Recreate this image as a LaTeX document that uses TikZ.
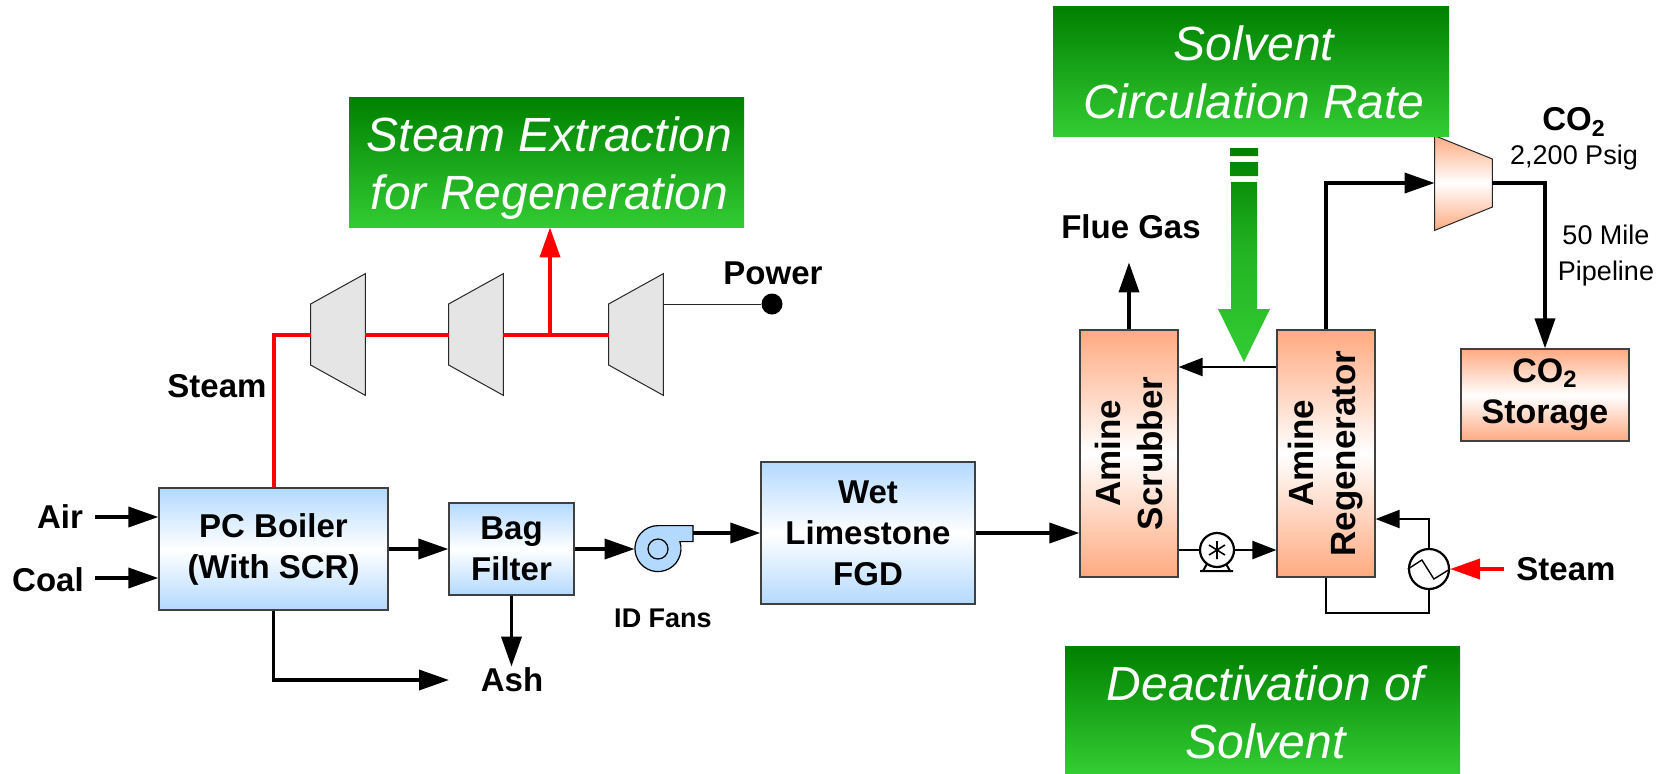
\documentclass[tikz,border=0pt]{standalone}
\usepackage{fontspec}
\setmainfont{Liberation Sans}
\usetikzlibrary{arrows.meta}
\definecolor{sky}{HTML}{B3D9FF}
\definecolor{peach}{HTML}{FFAA80}
\definecolor{darkleaf}{HTML}{008000}
\definecolor{leaf}{HTML}{33CC33}
\definecolor{fanblue}{HTML}{B3D9FF}
\begin{document}
\begin{tikzpicture}[
    x=0.5pt, y=-0.5pt,
    unit/.style={rectangle, draw=black!75, line width=0.6pt, text centered, inner sep=0pt, align=center, font=\fontsize{16.5}{20.5}\selectfont\bfseries},
    bluebox/.style={unit, top color=sky, bottom color=sky, middle color=white},
    orangebox/.style={unit, top color=peach, bottom color=peach, middle color=white},
    upright/.style={orangebox, rotate=90, minimum width=123.5pt, minimum height=49pt, font=\fontsize{17.5}{21}\selectfont\bfseries},
    callout/.style={rectangle, inner sep=0pt, top color=darkleaf, bottom color=leaf},
    captext/.style={inner sep=0pt, align=center, text=white, xshift=1.5pt, font=\fontsize{24}{29}\selectfont\itshape},
    tag/.style={inner sep=0pt, align=center, font=\fontsize{16.5}{20.5}\selectfont\bfseries},
    small/.style={inner sep=0pt, align=center, font=\fontsize{13.5}{18}\selectfont},
    turbine/.style={rectangle, inner sep=0pt, minimum width=27pt, minimum height=60.5pt},
    casing/.style={draw=black!85, line width=0.5pt},
    arrow/.style={line width=1.8pt, -{Triangle[length=15pt,width=10pt]}},
    thinarrow/.style={line width=1.1pt, -{Triangle[length=12pt,width=9pt]}},
    redline/.style={line width=2pt, red},
    redarrow/.style={redline, -{Triangle[length=15pt,width=10pt]}}
]
    % main gas train
    \node[bluebox, minimum width=114.5pt, minimum height=61pt] (boiler) at (273.5,549) {PC Boiler\\(With SCR)};
    \node[bluebox, right of=boiler, node distance=119pt, minimum width=62.5pt, minimum height=46pt] (bag) {Bag\\Filter};
    \node[circle, fill=fanblue, minimum size=23pt, inner sep=0pt, right of=bag, node distance=73.25pt] (fan) {};
    \draw[fill=fanblue, line width=0.6pt] (fan.north) -- ++(35,0) -- ++(0,16) -- ++(-13.1,0) arc[start angle=17.7, end angle=-270, radius=11.5pt] -- cycle;
    \draw[line width=0.6pt] (fan) circle[radius=5pt];
    \coordinate (fanout) at (693,533);
    \node[bluebox, minimum width=107pt, minimum height=71pt] (fgd) at (868,533) {Wet\\Limestone\\FGD};
    \node[upright] (scrubber) at (1129,453.5) {Amine\\Scrubber};
    \node[upright] (regen) at (1326,453.5) {Amine\\Regenerator};
    \node[orangebox, minimum width=84pt, minimum height=46pt, font=\fontsize{17}{20.5}\selectfont\bfseries] (storage) at (1545,395) {CO\textsubscript{2}\\Storage};

    % turbines
    \node[turbine] (turbA) at (338,334.5) {};
    \node[turbine, right of=turbA, node distance=69pt] (turbB) {};
    \node[turbine, right of=turbB, node distance=80pt] (turbC) {};
    \foreach \name in {turbA,turbB,turbC}
        \draw[casing, fill=black!10] ([yshift=15.25pt]\name.west) -- (\name.north east) -- (\name.south east) -- ([yshift=-15.25pt]\name.west) -- cycle;
    \node[circle, fill=black, minimum size=10.5pt, inner sep=0pt] (dot) at (772,304) {};
    \coordinate (tap) at (550,334.5);

    % compressor, pump and reboiler
    \node[turbine, minimum width=28.5pt, minimum height=47pt] (comp) at (1463.5,183) {};
    \draw[casing, top color=peach, bottom color=peach, middle color=white] (comp.north west) -- ([yshift=12pt]comp.east) -- ([yshift=-12pt]comp.east) -- (comp.south west) -- cycle;
    \draw[line width=1pt] (1200,571) -- (1233,571) (1203,571) -- (1208,562) (1230,571) -- (1225,562);
    \node[circle, draw=black, line width=1.1pt, fill=white, minimum size=17pt, inner sep=0pt] (pump) at (1217,550) {};
    \draw[line width=0.8pt] (pump.center) ++(0,-9) -- ++(0,18) (pump.center) ++(-8,-5) -- ++(16,10) (pump.center) ++(-8,5) -- ++(16,-10);
    \node[circle, draw=black, line width=1.1pt, fill=white, minimum size=20pt, inner sep=0pt] (hex) at (1429,569) {};
    \draw[line width=0.7pt] (hex.west) -- ++(14,-9) -- ++(12,19) -- (hex.east);

    % callouts
    \node[callout, minimum width=197.5pt, minimum height=65pt, label={[captext, yshift=-3pt]center:Steam Extraction\\for Regeneration}] (steam) at (546.5,162) {};
    \node[callout, minimum width=198pt, minimum height=65pt, label={[captext, yshift=-0.5pt]center:Solvent\\Circulation Rate}] (rate) at (1251,71) {};
    \node[callout, minimum width=197.5pt, minimum height=63.5pt, label={[captext, yshift=-1.5pt]center:Deactivation of\\Solvent}] (deact) at (1262.5,709.5) {};
    \shade[top color=darkleaf, bottom color=leaf, middle color=leaf!70!darkleaf] (1230,148) rectangle (1258,156) (1230,162) rectangle (1258,176)
        (1231,182) -- (1257,182) -- (1257,309) -- (1270,309) -- (1244,362) -- (1218,309) -- (1231,309) -- cycle;

    % labels
    \node[tag] (air) at (60,517) {Air};
    \node[tag] (coal) at (48,580) {Coal};
    \node[tag] (steamlbl) at (217,386) {Steam};
    \node[tag] (ash) at (512,680) {Ash};
    \node[tag] (power) at (773,273) {Power};
    \node[tag] (flue) at (1131,227) {Flue Gas};
    \node[tag] (steamin) at (1566,569) {Steam};
    \node[tag, font=\fontsize{13.5}{16.5}\selectfont\bfseries] (fans) at (663,618) {ID Fans};
    \node[tag] (co) at (1574,122) {CO\textsubscript{2}};
    \node[small] (psig) at (1574,158) {2,200 Psig};
    \node[small] (pipe) at (1606,256) {50 Mile\\Pipeline};
    \coordinate (airin) at (95,517);
    \coordinate (coalin) at (95,578);
    \coordinate (steamout) at (1504,569);
    \coordinate (wasteend) at (449,680);

    % connectors
    \draw[arrow] (airin) -- (airin -| boiler.west);
    \draw[arrow] (coalin) -- (coalin -| boiler.west);
    \draw[arrow] (boiler) -- (bag);
    \draw[arrow] (bag.east) -- (fan.west);
    \draw[arrow] (fanout) -- (fgd.west);
    \draw[arrow] (fgd.east) -- (fgd.east -| scrubber.north);
    \draw[arrow] (bag.south) -- ++(0,71);
    \draw[arrow] (boiler.south) |- (wasteend);
    \draw[arrow] (scrubber.east) -- ++(0,-67);
    \draw[arrow] (regen.east) |- (comp.west);
    \draw[arrow] (comp.east) -| (storage.north);
    \draw[thinarrow] (regen.north |- 0,367) -- (scrubber.south |- 0,367);
    \draw[thinarrow] (scrubber.south |- pump) -- (pump) -- (regen.north |- pump);
    \draw[line width=1.1pt] (regen.west) -- ++(0,35) -| (hex.south);
    \draw[thinarrow] (hex.north) |- (regen.south |- 0,519);
    \draw[redline] (boiler.north) |- (turbA.west);
    \draw[redline] (turbA) -- (turbB);
    \draw[redline] (turbB) -- (turbC);
    \draw[redarrow] (tap) -- (tap |- steam.south);
    \draw[redarrow] (steamout) -- (hex.east);
    \draw[line width=0.4pt, black!85] (turbC.east |- dot) -- (dot);

    \useasboundingbox (0,0) rectangle (1662,773);
\end{tikzpicture}
\end{document}
